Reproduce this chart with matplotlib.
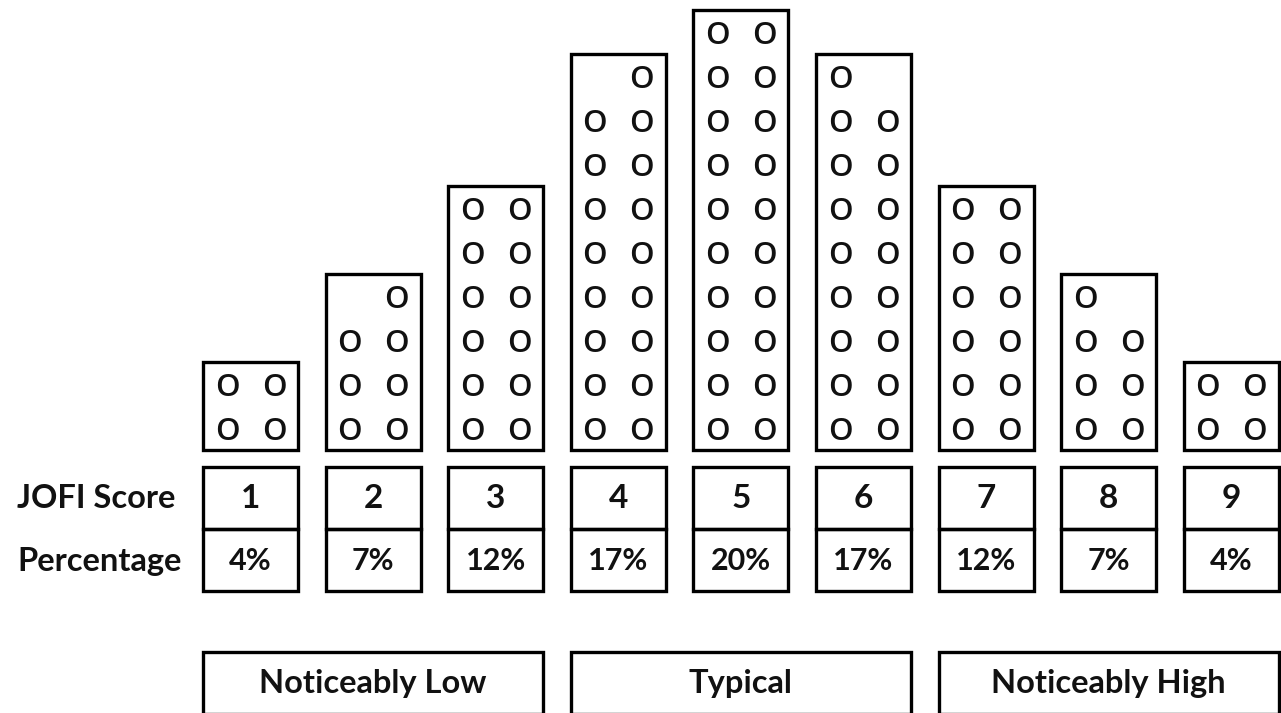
import matplotlib
matplotlib.use("Agg")
import matplotlib.pyplot as plt
from matplotlib.patches import Rectangle

# ---- data ----
scores = [1, 2, 3, 4, 5, 6, 7, 8, 9]
counts = [4, 7, 12, 17, 20, 17, 12, 7, 4]
percent_labels = ["4%", "7%", "12%", "17%", "20%", "17%", "12%", "7%", "4%"]
single_side = ["right", "right", "right", "right", "right", "left", "left", "left", "left"]
group_labels = ["Noticeably Low", "Typical", "Noticeably High"]
group_start = [0, 3, 6]
group_end = [2, 5, 8]
row_labels = ["JOFI Score", "Percentage"]

# ---- layout (pixels) ----
W, H = 1281, 713
x0, pitch, bw = 203, 122.6, 95
base = 450
row_h = 44
score_top, score_mid, score_bot = 467, 529, 591
grp_top = 652
lw = 2.4
label_font = "Lato"

fig = plt.figure(figsize=(W / 100, H / 100), dpi=100)
ax = fig.add_axes([0, 0, 1, 1])
ax.set_xlim(0, W)
ax.set_ylim(H, 0)
ax.axis("off")

for i, (s, c, p) in enumerate(zip(scores, counts, percent_labels)):
    left = x0 + pitch * i
    rows = (c + 1) // 2
    # column box
    ax.add_patch(Rectangle((left, base - rows * row_h), bw, rows * row_h,
                           fill=False, lw=lw, ec="black"))
    # marks
    for k in range(c):
        r = k // 2
        col = k % 2
        if c % 2 == 1 and r == rows - 1:
            col = 1 if single_side[i] == "right" else 0
        cx = left + bw / 2 + (-23.5 if col == 0 else 23.5)
        cy = base - r * row_h - 10
        ax.text(cx, cy, "O", ha="center", va="baseline", fontsize=22.5,
                family="Open Sans", weight="semibold", color="#111111")
    # score / percent boxes
    ax.add_patch(Rectangle((left, score_top), bw, score_mid - score_top,
                           fill=False, lw=lw, ec="black"))
    ax.add_patch(Rectangle((left, score_mid), bw, score_bot - score_mid,
                           fill=False, lw=lw, ec="black"))
    ax.text(left + bw / 2, (score_top + score_mid) / 2 + 1, str(s), ha="center",
            va="center", fontsize=24, weight="bold", family=label_font, color="#111111")
    ax.text(left + bw / 2, (score_mid + score_bot) / 2 + 1, p, ha="center",
            va="center", fontsize=22, weight="bold", family=label_font, color="#111111")

ax.text(175, (score_top + score_mid) / 2 + 1, row_labels[0], ha="right", va="center",
        fontsize=23.5, weight="bold", family=label_font, color="#111111")
ax.text(182, (score_mid + score_bot) / 2 + 1, row_labels[1], ha="right", va="center",
        fontsize=23.5, weight="bold", family=label_font, color="#111111")

for lab, a, b in zip(group_labels, group_start, group_end):
    l = x0 + pitch * a
    r = x0 + pitch * b + bw
    ax.add_patch(Rectangle((l, grp_top), r - l, 62, fill=False, lw=lw, ec="black"))
    ax.text((l + r) / 2, grp_top + 31, lab, ha="center", va="center",
            fontsize=23.5, weight="bold", family=label_font, color="#111111")

fig.savefig("out.png", dpi=100, facecolor="white")
